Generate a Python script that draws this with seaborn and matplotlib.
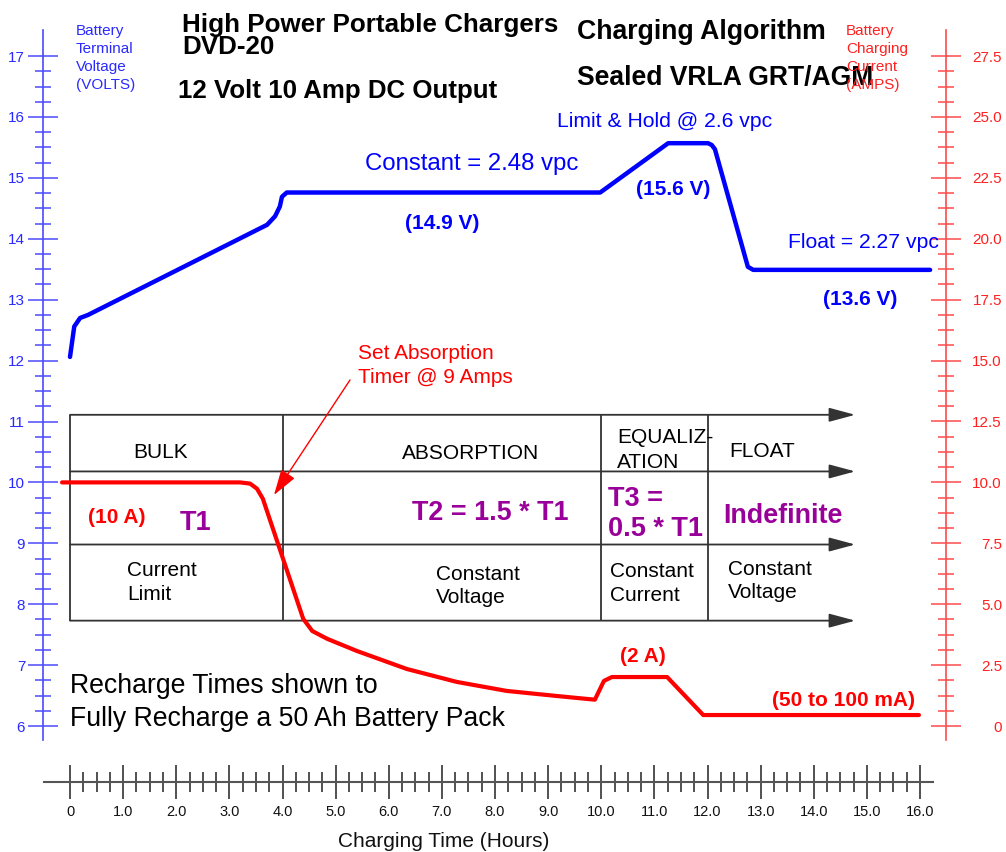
"""
Charging Algorithm chart - DVD-20 charger, sealed VRLA GRT/AGM
Voltage on the left axis, current on the right axis, stage table in the middle
"""
import numpy as np
import pandas as pd
import matplotlib
matplotlib.use("Agg")
import matplotlib.pyplot as plt
from matplotlib.ticker import FixedLocator
import seaborn as sns

# Battery terminal voltage over time (hours, volts)
volt_hours = [0, 0.08, 0.19, 0.34, 3.71, 3.86, 3.95, 3.99, 4.08, 9.98,
              11.26, 12.01, 12.08, 12.14, 12.76, 12.86, 16.19]
volt_values = [12.06, 12.56, 12.70, 12.75, 14.23, 14.37, 14.53, 14.69, 14.76, 14.76,
               15.57, 15.57, 15.54, 15.47, 13.54, 13.49, 13.49]

# Charging current over time (hours, amps)
amp_hours = [-0.15, 3.20, 3.39, 3.52, 3.63, 4.39, 4.56, 4.84, 5.40, 6.34, 7.28,
             8.22, 9.17, 9.88, 10.05, 10.20, 11.24, 11.92, 15.98]
amp_values = [10.0, 10.0, 9.95, 9.74, 9.33, 4.40, 3.90, 3.58, 3.08, 2.34, 1.81,
              1.44, 1.23, 1.08, 1.85, 2.01, 2.01, 0.45, 0.45]

time_ticks = list(range(0, 17))
time_labels = ["0"] + [f"{t:.1f}" for t in time_ticks[1:]]
volt_ticks = list(range(6, 18))
volt_labels = [str(v) for v in volt_ticks]
amp_ticks = [0, 2.5, 5.0, 7.5, 10.0, 12.5, 15.0, 17.5, 20.0, 22.5, 25.0, 27.5]
amp_labels = ["0"] + [f"{a:.1f}" for a in amp_ticks[1:]]

# Stage table
stage_starts = [0, 4.0, 10.0, 12.0]
table_rows = [11.11, 10.18, 8.98, 7.73]
table_end = 14.78

# page layout (pixels)
W, H = 1006, 852
X0, PX_H = 70, 53.125        # pixel of 0 h, pixels per hour
Y6, PX_V = 726, 60.9         # pixel of 6 V, pixels per volt

def hx(px):
    return (px - X0) / PX_H

def vy(py):
    return 6 + (Y6 - py) / PX_V

def amps(v):
    return (v - 6) * 2.5

def ft(x, y):
    return x / W, 1 - y / H

BLUE = "#0000ff"
AXBLUE = "#4a4aff"
RED = "#ff0000"
AXRED = "#ff4a4a"
PURPLE = "#990099"

sns.set_style("white")
plt.rcParams["font.family"] = ["Liberation Sans", "DejaVu Sans"]

fig = plt.figure(figsize=(W / 100, H / 100), dpi=100)
ax = fig.add_axes([0, 0, 1, 1])
ax.set_xlim(hx(0), hx(W))
ax.set_ylim(vy(H), vy(0))

# stage table
for y in table_rows:
    ax.annotate("", xy=(table_end, y), xytext=(0, y),
                arrowprops=dict(arrowstyle="-|>,head_length=1.6,head_width=0.43",
                                color="#333333", lw=1.3, shrinkA=0, shrinkB=0,
                                mutation_scale=10))
ax.vlines(stage_starts, table_rows[-1], table_rows[0], color="#333333", lw=1.3)

# voltage curve
df_v = pd.DataFrame({"hours": volt_hours, "volts": volt_values})
sns.lineplot(data=df_v, x="hours", y="volts", ax=ax, color=BLUE, lw=3.2,
             sort=False, estimator=None)

# left axis (volts)
ax.spines["top"].set_visible(False)
ax.spines["right"].set_visible(False)
ax.spines["left"].set_position(("data", hx(43)))
ax.spines["left"].set_bounds(vy(740), vy(30))
ax.spines["left"].set_color(AXBLUE)
ax.spines["left"].set_linewidth(1.2)
ax.set_yticks(volt_ticks, volt_labels)
ax.yaxis.set_minor_locator(FixedLocator(np.arange(6, 17.01, 0.25)))
ax.tick_params(axis="y", which="both", left=True)
ax.tick_params(axis="y", which="major", direction="inout", length=21.6, width=1.1,
               color=AXBLUE, labelcolor="#2a2aff", labelsize=11, pad=2)
ax.tick_params(axis="y", which="minor", direction="inout", length=12.2, width=1.1,
               color=AXBLUE)

# bottom axis (hours)
ax.spines["bottom"].set_position(("data", vy(782)))
ax.spines["bottom"].set_bounds(hx(44), hx(933))
ax.spines["bottom"].set_color("#555555")
ax.spines["bottom"].set_linewidth(1.5)
ax.set_xticks(time_ticks, time_labels)
ax.xaxis.set_minor_locator(FixedLocator(np.arange(0, 16.01, 0.25)))
ax.tick_params(axis="x", which="both", bottom=True)
ax.tick_params(axis="x", which="major", direction="inout", length=24.5, width=1.1,
               color="#222222", labelcolor="#111111", labelsize=10.5, pad=4.5)
ax.tick_params(axis="x", which="minor", direction="inout", length=13.7, width=1.1,
               color="#222222")
ax.set_xlabel("")
ax.set_ylabel("")

# right axis (amps)
ax2 = ax.twinx()
ax2.set_position([0, 0, 1, 1])
ax2.set_ylim(amps(vy(H)), amps(vy(0)))
df_a = pd.DataFrame({"hours": amp_hours, "amps": amp_values})
sns.lineplot(data=df_a, x="hours", y="amps", ax=ax2, color=RED, lw=3.0,
             sort=False, estimator=None)
for s in ["top", "left", "bottom"]:
    ax2.spines[s].set_visible(False)
ax2.spines["right"].set_position(("data", hx(946)))
ax2.spines["right"].set_bounds(amps(vy(740)), amps(vy(30)))
ax2.spines["right"].set_color(AXRED)
ax2.spines["right"].set_linewidth(1.2)
ax2.set_yticks(amp_ticks, amp_labels)
ax2.yaxis.set_minor_locator(FixedLocator(np.arange(0, 27.51, 0.625)))
ax2.tick_params(axis="y", which="both", right=True)
ax2.tick_params(axis="y", which="major", direction="inout", length=21.6, width=1.1,
                color=AXRED, labelcolor="#ff2020", labelsize=11, pad=29.5)
ax2.tick_params(axis="y", which="minor", direction="inout", length=11.5, width=1.1,
                color=AXRED)
for lbl in ax2.get_yticklabels():
    lbl.set_horizontalalignment("right")
ax2.set_ylabel("")
ax2.set_xlabel("")

# arrow to the absorption timer point
ax.annotate("", xy=(hx(274), vy(495)), xytext=(hx(350), vy(380)),
            arrowprops=dict(arrowstyle="-|>,head_length=1.6,head_width=0.5",
                            color=RED, lw=1.0, shrinkA=0, shrinkB=0,
                            mutation_scale=10))

# texts: (x, baselines, lines, size, weight, colour)
texts = [
    (182, [32], ["High Power Portable Chargers"], 18.7, "bold", "black"),
    (182, [54], ["DVD-20"], 18.7, "bold", "black"),
    (178, [98], ["12 Volt 10 Amp DC Output"], 18.6, "bold", "black"),
    (577, [39], ["Charging Algorithm"], 19.2, "bold", "black"),
    (577, [85], ["Sealed VRLA GRT/AGM"], 19.1, "bold", "black"),
    (76, [35, 53, 71, 89], ["Battery", "Terminal", "Voltage", "(VOLTS)"],
     11, "normal", "#2a2aff"),
    (846, [35, 53, 71, 89], ["Battery", "Charging", "Current", "(AMPS)"],
     11, "normal", "#ff2020"),
    (557, [127], ["Limit & Hold @ 2.6 vpc"], 15.2, "normal", BLUE),
    (365, [170], ["Constant = 2.48 vpc"], 17.3, "normal", BLUE),
    (405, [229], ["(14.9 V)"], 15, "bold", BLUE),
    (636, [195], ["(15.6 V)"], 15, "bold", BLUE),
    (788, [248], ["Float = 2.27 vpc"], 15.2, "normal", BLUE),
    (823, [305], ["(13.6 V)"], 15, "bold", BLUE),
    (358, [359, 383], ["Set Absorption", "Timer @ 9 Amps"], 15, "normal", RED),
    (133, [458], ["BULK"], 15, "normal", "black"),
    (402, [459], ["ABSORPTION"], 15, "normal", "black"),
    (617, [443, 468], ["EQUALIZ-", "ATION"], 15, "normal", "black"),
    (729, [457], ["FLOAT"], 15, "normal", "black"),
    (88, [523], ["(10 A)"], 15, "bold", RED),
    (180, [530], ["T1"], 19.5, "bold", PURPLE),
    (412, [520], ["T2 = 1.5 * T1"], 19.4, "bold", PURPLE),
    (608, [506, 536], ["T3 =", "0.5 * T1"], 19.5, "bold", PURPLE),
    (723, [523], ["Indefinite"], 19.4, "bold", PURPLE),
    (127, [576, 600], ["Current", "Limit"], 15, "normal", "black"),
    (436, [580, 603], ["Constant", "Voltage"], 15, "normal", "black"),
    (610, [577, 601], ["Constant", "Current"], 15, "normal", "black"),
    (728, [575, 598], ["Constant", "Voltage"], 15, "normal", "black"),
    (620, [662], ["(2 A)"], 15, "bold", RED),
    (772, [706], ["(50 to 100 mA)"], 15, "bold", RED),
    (70, [693, 726], ["Recharge Times shown to", "Fully Recharge a 50 Ah Battery Pack"],
     19.2, "normal", "black"),
]
for x, baselines, lines, size, weight, color in texts:
    for y, s in zip(baselines, lines):
        fx, fy = ft(x, y)
        fig.text(fx, fy, s, fontsize=size, fontweight=weight, color=color,
                 ha="left", va="baseline")

fx, fy = ft(444, 847)
fig.text(fx, fy, "Charging Time (Hours)", fontsize=15, color="#111111",
         ha="center", va="baseline")

fig.savefig("out.png", dpi=100)
plt.close(fig)
